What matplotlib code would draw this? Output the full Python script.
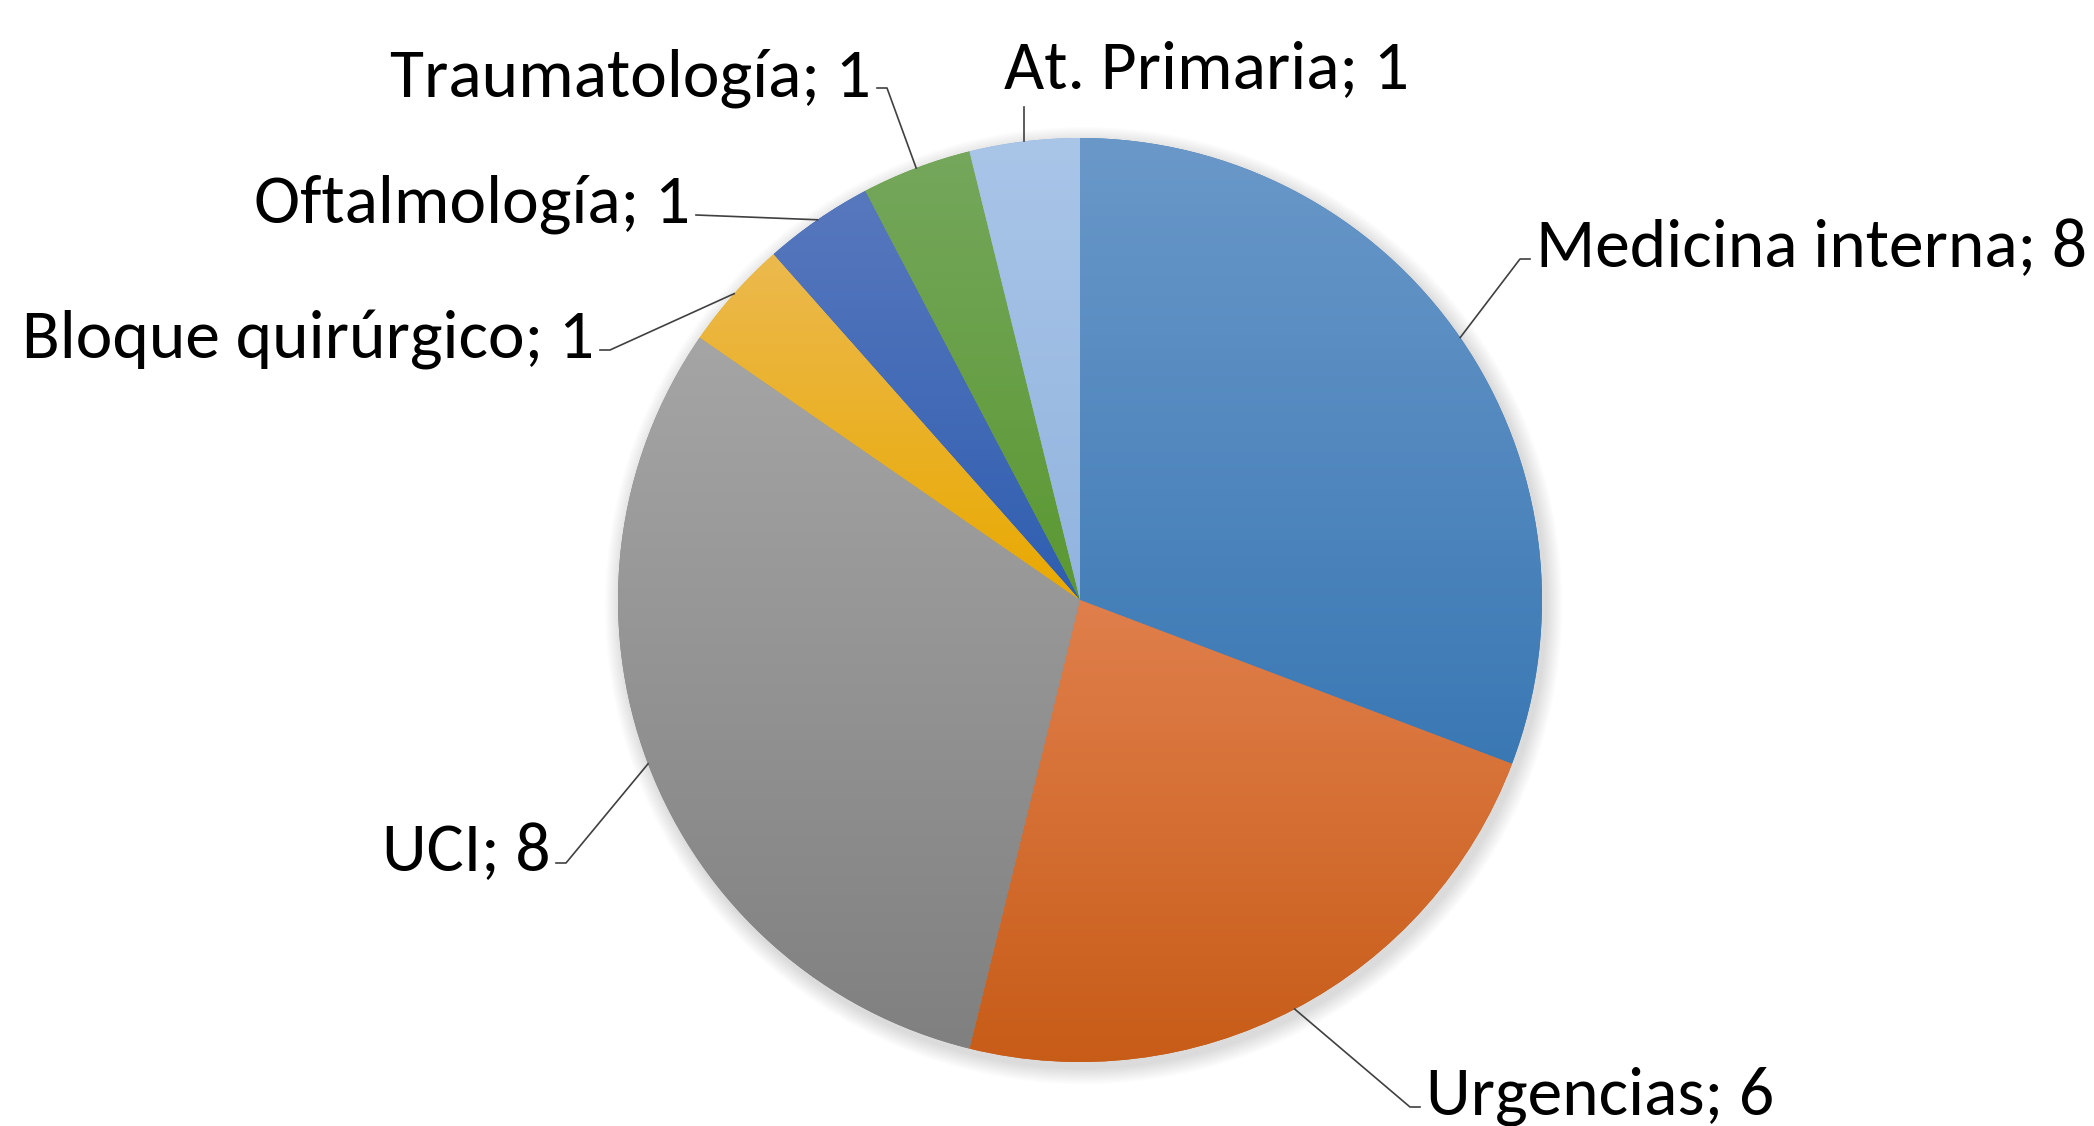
import matplotlib
matplotlib.use("Agg")
import matplotlib.pyplot as plt
import numpy as np
from matplotlib.colors import LinearSegmentedColormap
from matplotlib.patches import Circle

########### DATA ###########
servicios = ["Medicina interna", "Urgencias", "UCI", "Bloque quirúrgico",
             "Oftalmología", "Traumatología", "At. Primaria"]
casos = [8, 6, 8, 1, 1, 1, 1]
############################

# colores (arriba, abajo) de cada porción
top_colors = ["#6a98c9", "#e07f4c", "#a5a5a5", "#ecb94e", "#5878be", "#75a75c", "#a9c5e8"]
bottom_colors = ["#3a78b4", "#c75b16", "#808080", "#e9a900", "#2f5eb0", "#5b9832", "#92b4df"]

# posición del texto en píxeles (x, línea base) y alineación
label_px = [(1536, 267), (1426, 1115), (550, 871), (594, 358), (690, 223), (871, 96), (1004, 88)]
label_ha = ["left", "left", "right", "right", "right", "right", "left"]

W, H = 2094, 1126
CX, CY, R = 1080, 600, 462  # centro y radio en píxeles


def px_to_data(px, py):
    return (px - CX) / R, (CY - py) / R


fig = plt.figure(figsize=(W / 100, H / 100), dpi=100)
ax = fig.add_axes([0, 0, 1, 1])
ax.axis("off")

# sombra suave
for i in range(12):
    ax.add_patch(Circle((0.008, -0.012), 1.0 + 0.003 * (12 - i), color="black",
                        alpha=0.012, lw=0, zorder=0))

wedges, _ = ax.pie(casos, startangle=90, counterclock=False, radius=1,
                   colors=bottom_colors, wedgeprops=dict(linewidth=0), frame=False)

grad = np.linspace(0, 1, 256).reshape(-1, 1)
for w, c0, c1 in zip(wedges, top_colors, bottom_colors):
    cmap = LinearSegmentedColormap.from_list("g", [c0, c1])
    verts = w.get_path().vertices
    x0, x1 = verts[:, 0].min(), verts[:, 0].max()
    y0, y1 = verts[:, 1].min(), verts[:, 1].max()
    im = ax.imshow(grad, cmap=cmap, extent=[x0, x1, y0, y1], origin="upper",
                   aspect="auto", zorder=2, interpolation="bilinear")
    im.set_clip_path(w)

ax.set_aspect("auto")
ax.set_xlim(-CX / R, (W - CX) / R)
ax.set_ylim(-(H - CY) / R, CY / R)

font = ["Carlito", "DejaVu Sans"]
total = sum(casos)
cum = np.cumsum([0] + casos)
for i, (name, val) in enumerate(zip(servicios, casos)):
    mid = 90 - (cum[i] + val / 2) / total * 360
    ex, ey = np.cos(np.radians(mid)), np.sin(np.radians(mid))
    tx, ty = px_to_data(*label_px[i])
    ha = label_ha[i]
    gap = 6 / R
    stub = 10 / R
    ly = ty + 8 / R
    if ha == "left":
        lx_end = tx - gap
        lx_knee = lx_end - stub
    else:
        lx_end = tx + gap
        lx_knee = lx_end + stub
    if name == "At. Primaria":
        ax.plot([ex, ex], [ey, ey + 34 / R], color="#404040", lw=1.2, zorder=3)
    elif name == "Oftalmología":
        ax.plot([ex, lx_end], [ey, ly], color="#404040", lw=1.2, zorder=3)
    else:
        ax.plot([ex, lx_knee, lx_end], [ey, ly, ly], color="#404040", lw=1.2, zorder=3)
    ax.text(tx, ty, f"{name}; {val}", ha=ha, va="baseline", fontsize=50,
            family=font, color="black", zorder=4)

fig.savefig("out.png", dpi=100, facecolor="white")
